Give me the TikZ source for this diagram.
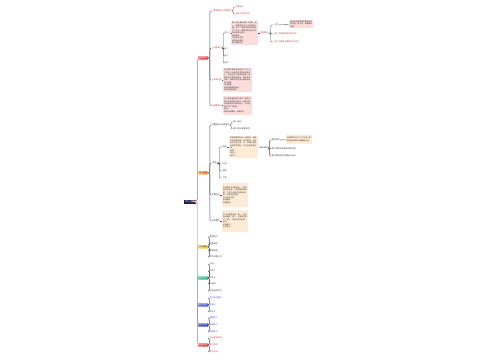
\documentclass[tikz,border=0pt]{standalone}
\usepackage{fontspec}
\setmainfont{Noto Sans CJK SC}
\XeTeXlinebreaklocale "zh"
\XeTeXlinebreakskip = 0pt plus 0.5pt
\definecolor{rootblue}{HTML}{1B1F4B}
\definecolor{redbr}{HTML}{E5484A}
\definecolor{redfill}{HTML}{FBDDDC}
\definecolor{orangebr}{HTML}{F4A64E}
\definecolor{orangefill}{HTML}{FDEBD6}
\definecolor{yellowbr}{HTML}{F5D048}
\definecolor{greenbr}{HTML}{2DBE8E}
\definecolor{bluebr}{HTML}{5062D8}
\definecolor{indigobr}{HTML}{3B47B6}
\definecolor{linegray}{HTML}{4A4D60}
\definecolor{trunkpink}{HTML}{D9A3A8}

\begin{document}
\begin{tikzpicture}[x=1pt,y=-1pt,
  rootnode/.style={fill=rootblue,text=white,font=\fontsize{2.4}{3}\selectfont,inner xsep=1pt,inner ysep=0.9pt,anchor=west},
  topic/.style={fill=#1,text=white,font=\fontsize{2}{2.6}\selectfont,inner xsep=1pt,inner ysep=0.7pt,anchor=west,rounded corners=0.5pt},
  darktopic/.style={topic=#1,text=black!80},
  leaf/.style={text=#1,font=\fontsize{2}{2.6}\selectfont,inner xsep=0.4pt,inner ysep=0.4pt,anchor=west},
  note/.style={fill=#1,text=black!80,font=\fontsize{1.8}{2.5}\selectfont,inner sep=1pt,anchor=west,align=left},
  link/.style={draw=linegray,line width=0.35pt,rounded corners=1.2pt},
  trunk/.style={draw=#1,line width=0.9pt,rounded corners=3pt}]

\useasboundingbox[fill=white] (0,0) rectangle (500,360);

\node[rootnode] (root) at (184,201.5) {中心主题};

\node[topic=redbr] (b1) at (198,58) {基础知识};
\node[darktopic=orangebr] (b2) at (198,173) {核心内容};
\node[darktopic=yellowbr] (b3) at (198,247) {知识拓展};
\node[topic=greenbr] (b4) at (198,278) {方法技巧};
\node[topic=bluebr] (b5) at (198,305) {学习要点};
\node[topic=indigobr] (b6) at (198,325) {练习巩固};
\node[topic=redbr] (b7) at (198,345) {总结归纳};

\foreach \b/\c in {b7/redbr,b6/indigobr,b5/bluebr,b4/greenbr,b3/trunkpink,b2/orangebr,b1/redbr}
	\draw[trunk=\c!55] (root.east) -- ++(1.5,0) |- (\b.west);

% first branch
\node[leaf=redbr!85!black] (a1) at (213,11) {基本概念与主要特征};
\node[leaf=redbr!85!black] (a11) at (235,7) {主要含义};
\node[leaf=redbr!85!black] (a12) at (235,14) {特征与分类方法};
\node[leaf=redbr!85!black] (a2) at (213,48) {组成部分};
\node[leaf=redbr!85!black] (c1) at (224,33) {第一点};
\node[note=redfill,text width=25pt,minimum height=24pt] (k1) at (231,33) {第一点主要包括以下内容：其一，明确基本含义与适用范围；其二，掌握主要的表现形式；其三，理解其在实际中的具体应用与意义。\\ 具体而言：\\ 内容较为丰富，\\ 结构比较清晰，\\ 便于理解记忆。};
\node[leaf=redbr!85!black] (n1) at (259.5,33) {相关要点};
\node[leaf=redbr!85!black] (m1) at (274,25) {说明};
\node[note=redfill,text width=22pt,minimum height=8pt] (k2) at (289,24) {此处补充说明相关要点的具体内容，便于进一步理解和把握。};
\node[leaf=redbr!85!black] (m2) at (274,34) {第二方面的具体表现形式};
\node[leaf=redbr!85!black] (m3) at (274,42) {第三方面的主要影响与作用};
\node[leaf=redbr!85!black] (c2) at (224,49) {其二};
\node[leaf=redbr!85!black] (c3) at (224,56) {其三};
\node[leaf=redbr!85!black] (c4) at (224,63) {其四};
\node[leaf=redbr!85!black] (a3) at (213,80) {发展过程};
\node[note=redfill,text width=27pt,minimum height=24pt] (k3) at (223,80) {该主题的发展大致经历了以下几个阶段：起步阶段主要以探索为主，逐步形成了基本的框架；发展阶段内容不断丰富，体系逐渐完善；成熟阶段更加注重实际应用与创新。\\ 总体来看：\\ 发展过程循序渐进，\\ 各阶段相互联系。};
\node[leaf=redbr!85!black] (a4) at (213,105.5) {重要意义};
\node[note=redfill,text width=27pt,minimum height=19pt] (k4) at (223,105.5) {学习和掌握这部分内容，有助于建立完整的知识体系，提高分析问题和解决问题的能力，也为后续学习打下基础。\\ 因此：\\ 需要认真理解，反复练习。};

\foreach \c in {a1,a2,a3,a4}
	\draw[link] (b1.east) -- ++(1.5,0) |- (\c.west);
\foreach \c in {a11,a12}
	\draw[link] (a1.east) -- ++(1,0) |- (\c.west);
\foreach \c in {c1,c2,c3,c4}
	\draw[link] (a2.east) -- ++(1,0) |- (\c.west);
\foreach \c in {m1,m2,m3}
	\draw[link] (n1.east) -- ++(2,0) |- (\c.west);
\draw[link] (c1) -- (k1);
\draw[link] (k1) -- (n1);
\draw[link] (m1) -- (k2);
\draw[link] (a3) -- (k3);
\draw[link] (a4) -- (k4);

% second branch
\node[leaf=black!80] (o1) at (211,125) {主要结构与组成部分};
\node[leaf=black!80] (o11) at (233,122) {第一部分};
\node[leaf=black!80] (o12) at (233,129) {第二部分及其说明};
\node[leaf=black!80] (o2) at (212,163) {类型};
\node[leaf=black!80] (d1) at (222,147) {甲类};
\node[note=orangefill,text width=27pt,minimum height=22pt] (k5) at (229,147) {甲类是最常见的一种类型，其特点是结构简单、形式固定，在实际中应用十分广泛。判断时应抓住其本质特征，并与其他类型比较。\\ 例如：\\ 情况一，\\ 情况二。};
\node[leaf=black!80] (n2) at (259,148) {相关说明};
\node[leaf=black!80] (p1) at (271,140) {具体表现};
\node[note=orangefill,text width=24pt,minimum height=9pt] (k6) at (286,139.5) {具体表现为以下几个方面，需要结合实例加以理解和分析。};
\node[leaf=black!80] (p2) at (271,149) {第二种情况的具体说明内容};
\node[leaf=black!80] (p3) at (271,156) {第三种情况的主要特点分析};
\node[leaf=black!80] (d2) at (222,164) {乙类};
\node[leaf=black!80] (d3) at (222,171) {丙类};
\node[leaf=black!80] (d4) at (222,178) {丁类};
\node[leaf=black!80] (o3) at (211,195) {主要特点};
\node[note=orangefill,text width=24pt,minimum height=24pt] (k7) at (222,195) {主要特点可以概括为：一是内容系统全面，二是逻辑关系清楚，三是与实际生活联系紧密，四是综合性强。\\ 学习时应注意：\\ 把握重点，\\ 突破难点。};
\node[leaf=black!80] (o4) at (211,221) {注意事项};
\node[note=orangefill,text width=24pt,minimum height=22pt] (k8) at (222,221) {学习中需要注意：第一，区分相近概念；第二，注意规范表达；第三，总结方法与规律。\\ 此外：\\ 多做练习，\\ 及时复习。};

\foreach \c in {o1,o2,o3,o4}
	\draw[link] (b2.east) -- ++(1.5,0) |- (\c.west);
\foreach \c in {o11,o12}
	\draw[link] (o1.east) -- ++(1,0) |- (\c.west);
\foreach \c in {d1,d2,d3,d4}
	\draw[link] (o2.east) -- ++(2,0) |- (\c.west);
\foreach \c in {p1,p2,p3}
	\draw[link] (n2.east) -- ++(1.2,0) |- (\c.west);
\draw[link] (d1) -- (k5);
\draw[link] (k5) -- (n2);
\draw[link] (p1) -- (k6);
\draw[link] (o3) -- (k7);
\draw[link] (o4) -- (k8);

% smaller branches
\foreach \y/\t [count=\i] in {237/相关知识,244/延伸阅读,251/典型例题,257/常见问题汇总} {
	\node[leaf=black!80] (y\i) at (209,\y) {\t};
	\draw[link] (b3.east) -- ++(1,0) |- (y\i.west);
}
\foreach \y/\t [count=\i] in {264/方法一,271/方法二,278/方法三,284/方法四,291/综合运用方法} {
	\node[leaf=black!80] (g\i) at (209,\y) {\t};
	\draw[link] (b4.east) -- ++(1,0) |- (g\i.west);
}
\foreach \y/\t [count=\i] in {298/重点难点解析,305/易错点,312/易混点} {
	\node[leaf=bluebr] (u\i) at (209,\y) {\t};
	\draw[link] (b5.east) -- ++(1,0) |- (u\i.west);
}
\foreach \y/\t [count=\i] in {318/基础练习,325/提高练习,332/综合练习} {
	\node[leaf=indigobr] (v\i) at (209,\y) {\t};
	\draw[link] (b6.east) -- ++(1,0) |- (v\i.west);
}
\foreach \y/\t [count=\i] in {338/知识框架梳理,345/要点回顾,352/课后反思} {
	\node[leaf=redbr] (r\i) at (209,\y) {\t};
	\draw[link] (b7.east) -- ++(1,0) |- (r\i.west);
}

\end{tikzpicture}
\end{document}
